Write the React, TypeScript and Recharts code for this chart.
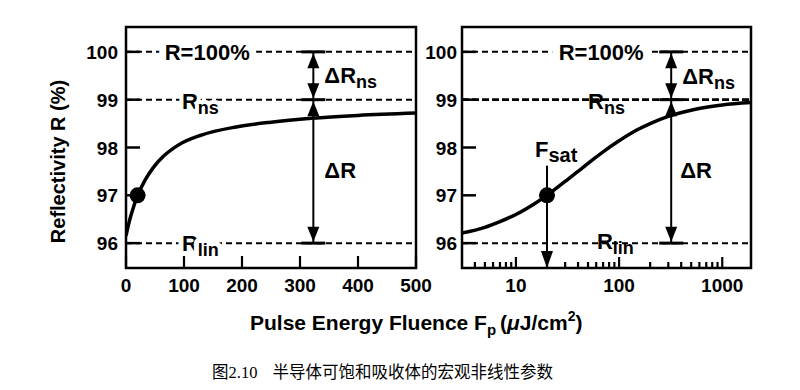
import {
  Line,
  LineChart,
  ReferenceArea,
  ReferenceDot,
  ReferenceLine,
  XAxis,
  YAxis,
} from "recharts";

// left panel: linear fluence axis
const linFluence = [0, 5, 10, 20, 33, 47, 64, 90, 130, 190, 250, 320, 400, 500];
const linReflectivity = [96.15, 96.42, 96.64, 97.0, 97.32, 97.58, 97.81, 98.05, 98.26, 98.43, 98.53, 98.61, 98.67, 98.72];

// right panel: log fluence axis
const logFluence = [3, 5, 7, 10, 15, 20, 30, 40, 50, 70, 100, 150, 200, 300, 500, 700, 1000, 1900];
const logReflectivity = [96.21, 96.33, 96.45, 96.6, 96.82, 97.0, 97.29, 97.5, 97.67, 97.91, 98.14, 98.37, 98.5, 98.65, 98.78, 98.84, 98.89, 98.94];

const yTicks = [96, 97, 98, 99, 100];
const linTicks = [0, 100, 200, 300, 400, 500];
const logTicks = [4, 5, 6, 7, 8, 9, 10, 20, 30, 40, 50, 60, 70, 80, 90, 100, 200, 300, 400, 500, 600, 700, 800, 900, 1000];
const logLabels = [10, 100, 1000];

const yDomain: [number, number] = [95.48, 100.52];
const linDomain: [number, number] = [0, 500];
const logDomain: [number, number] = [3, 1900];

const rFull = 100;
const rNs = 99;
const rLin = 96;
const fSat = 20;
const rSat = 97;
const linArrowF = 323;
const logArrowF = 320;

const FONT = "'Liberation Sans', Arial, Helvetica, sans-serif";

function YTick({ x, y, payload, gap }: any) {
  return (
    <g>
      <line x1={x} y1={y} x2={x + 14} y2={y} stroke="#000" strokeWidth={2.5} />
      <text x={x - gap} y={y + 7} textAnchor="end" fontSize={19} fontWeight="bold" fontFamily={FONT} fill="#000">
        {payload.value}
      </text>
    </g>
  );
}

function XTick({ x, y, payload, labels, major }: any) {
  const isMajor = labels.includes(payload.value);
  const len = isMajor ? major : 6;
  return (
    <g>
      <line x1={x} y1={y} x2={x} y2={y - len} stroke="#000" strokeWidth={2.2} />
      {isMajor && (
        <text x={x} y={y + 24} textAnchor="middle" fontSize={19} fontWeight="bold" fontFamily={FONT} fill="#000">
          {payload.value}
        </text>
      )}
    </g>
  );
}

function SubText({ cx, cy, dx = 0, dy = 0, main, sub, size = 22, subSize = 18, anchor = "start", halo = 0 }: any) {
  return (
    <text
      x={cx + dx}
      y={cy + dy}
      textAnchor={anchor}
      fontSize={size}
      fontWeight="bold"
      fontFamily={FONT}
      fill="#000"
      stroke={halo ? "#fff" : "none"}
      strokeWidth={halo}
      strokeLinejoin="round"
      paintOrder="stroke"
    >
      {main}
      {sub && (
        <tspan fontSize={subSize} dy={5}>
          {sub}
        </tspan>
      )}
    </text>
  );
}

function Head({ cx, cy, dir, w = 6, h = 15 }: any) {
  const s = dir === "up" ? 1 : -1;
  return <polygon points={`${cx},${cy} ${cx - w},${cy + s * h} ${cx + w},${cy + s * h}`} fill="#000" />;
}

function Junction({ cx, cy, kind }: any) {
  return (
    <g>
      <line x1={cx - 12} y1={cy} x2={cx + 12} y2={cy} stroke="#000" strokeWidth={3} />
      {kind !== "top" && <Head cx={cx} cy={cy - 1.5} dir="down" />}
      {kind !== "bottom" && <Head cx={cx} cy={cy + 1.5} dir="up" />}
    </g>
  );
}

function dashedLevels(heavyNs: boolean) {
  return [rFull, rNs, rLin].map((v) => (
    <ReferenceLine
      key={v}
      y={v}
      stroke="#000"
      strokeWidth={heavyNs && v === rNs ? 2.8 : 2}
      strokeDasharray={heavyNs && v === rNs ? "7 3" : "6 4"}
      ifOverflow="visible"
    />
  ));
}

function arrowSet(f: number) {
  return [
    <ReferenceLine key="shaft" segment={[{ x: f, y: rFull }, { x: f, y: rLin }]} stroke="#000" strokeWidth={2} ifOverflow="visible" />,
    <ReferenceDot key="j1" x={f} y={rFull} r={0} ifOverflow="visible" shape={(p: any) => <Junction cx={p.cx} cy={p.cy} kind="top" />} />,
    <ReferenceDot key="j2" x={f} y={rNs} r={0} ifOverflow="visible" shape={(p: any) => <Junction cx={p.cx} cy={p.cy} kind="mid" />} />,
    <ReferenceDot key="j3" x={f} y={rLin} r={0} ifOverflow="visible" shape={(p: any) => <Junction cx={p.cx} cy={p.cy} kind="bottom" />} />,
  ];
}

function LinearPanel() {
  const data = linFluence.map((f, i) => ({ f, r: linReflectivity[i] }));
  return (
    <LineChart width={440} height={300} data={data} margin={{ top: 27, right: 24, bottom: 0, left: 0 }}>
      <XAxis
        dataKey="f"
        type="number"
        domain={linDomain}
        ticks={linTicks}
        interval={0}
        height={32}
        axisLine={false}
        tickLine={false}
        tickSize={0}
        tickMargin={0}
        allowDataOverflow
        tick={(p: any) => <XTick {...p} labels={linTicks} major={12} />}
      />
      <YAxis
        type="number"
        domain={yDomain}
        ticks={yTicks}
        interval={0}
        width={126}
        axisLine={false}
        tickLine={false}
        tickSize={0}
        tickMargin={0}
        allowDataOverflow
        tick={(p: any) => <YTick {...p} gap={8} />}
      />
      {dashedLevels(false)}
      <ReferenceArea x1={linDomain[0]} x2={linDomain[1]} y1={yDomain[0]} y2={yDomain[1]} fill="none" fillOpacity={0} stroke="#000" strokeWidth={2.5} ifOverflow="visible" />
      <Line dataKey="r" type="monotone" stroke="#000" strokeWidth={3.5} dot={false} isAnimationActive={false} />
      <ReferenceDot x={140} y={rFull} r={0} ifOverflow="visible" shape={(p: any) => <SubText cx={p.cx} cy={p.cy} dy={8} main="R=100%" anchor="middle" halo={14} />} />
      <ReferenceDot x={96.5} y={rNs} r={0} ifOverflow="visible" shape={(p: any) => <SubText cx={p.cx} cy={p.cy} dy={9} main="R" sub="ns" halo={8} />} />
      <ReferenceDot x={96.5} y={rLin} r={0} ifOverflow="visible" shape={(p: any) => <SubText cx={p.cx} cy={p.cy} dy={8} main="R" sub="lin" halo={10} />} />
      <ReferenceDot x={linArrowF} y={99.5} r={0} ifOverflow="visible" shape={(p: any) => <SubText cx={p.cx} cy={p.cy} dx={11} dy={7} main="ΔR" sub="ns" />} />
      <ReferenceDot x={linArrowF} y={97.5} r={0} ifOverflow="visible" shape={(p: any) => <SubText cx={p.cx} cy={p.cy} dx={11} dy={7} main="ΔR" />} />
      {arrowSet(linArrowF)}
      <ReferenceDot x={fSat} y={rSat} r={8} fill="#000" stroke="none" ifOverflow="visible" />
    </LineChart>
  );
}

function LogPanel() {
  const data = logFluence.map((f, i) => ({ f, r: logReflectivity[i] }));
  return (
    <LineChart width={370} height={300} data={data} margin={{ top: 27, right: 19, bottom: 0, left: 0 }}>
      <XAxis
        dataKey="f"
        type="number"
        scale="log"
        domain={logDomain}
        ticks={logTicks}
        interval={0}
        height={32}
        axisLine={false}
        tickLine={false}
        tickSize={0}
        tickMargin={0}
        allowDataOverflow
        tick={(p: any) => <XTick {...p} labels={logLabels} major={11} />}
      />
      <YAxis
        type="number"
        domain={yDomain}
        ticks={yTicks}
        interval={0}
        width={62}
        axisLine={false}
        tickLine={false}
        tickSize={0}
        tickMargin={0}
        allowDataOverflow
        tick={(p: any) => <YTick {...p} gap={5} />}
      />
      {dashedLevels(true)}
      <ReferenceArea x1={logDomain[0]} x2={logDomain[1]} y1={yDomain[0]} y2={yDomain[1]} fill="none" fillOpacity={0} stroke="#000" strokeWidth={2.5} ifOverflow="visible" />
      <Line dataKey="r" type="monotone" stroke="#000" strokeWidth={3.5} dot={false} isAnimationActive={false} />
      <ReferenceLine segment={[{ x: fSat, y: 97.62 }, { x: fSat, y: yDomain[0] }]} stroke="#000" strokeWidth={2} ifOverflow="visible" />
      <ReferenceDot x={fSat} y={yDomain[0]} r={0} ifOverflow="visible" shape={(p: any) => <Head cx={p.cx} cy={p.cy} dir="down" h={17} />} />
      <ReferenceDot x={fSat} y={97.62} r={0} ifOverflow="visible" shape={(p: any) => <SubText cx={p.cx} cy={p.cy} dx={-12} dy={-9} main="F" sub="sat" subSize={20} />} />
      <ReferenceDot x={67} y={rFull} r={0} ifOverflow="visible" shape={(p: any) => <SubText cx={p.cx} cy={p.cy} dy={8} main="R=100%" anchor="middle" halo={16} />} />
      <ReferenceDot x={50} y={rNs} r={0} ifOverflow="visible" shape={(p: any) => <SubText cx={p.cx} cy={p.cy} dy={9} main="R" sub="ns" />} />
      <ReferenceDot x={61} y={rLin} r={0} ifOverflow="visible" shape={(p: any) => <SubText cx={p.cx} cy={p.cy} dy={6} main="R" sub="lin" />} />
      <ReferenceDot x={logArrowF} y={99.5} r={0} ifOverflow="visible" shape={(p: any) => <SubText cx={p.cx} cy={p.cy} dx={11} dy={8} main="ΔR" sub="ns" />} />
      <ReferenceDot x={logArrowF} y={97.5} r={0} ifOverflow="visible" shape={(p: any) => <SubText cx={p.cx} cy={p.cy} dx={9} dy={7} main="ΔR" />} />
      {arrowSet(logArrowF)}
      <ReferenceDot x={fSat} y={rSat} r={8} fill="#000" stroke="none" ifOverflow="visible" />
    </LineChart>
  );
}

export default function App() {
  return (
    <div style={{ position: "absolute", left: 0, top: 0, width: 800, height: 390, background: "#fff" }}>
      <div style={{ position: "absolute", left: 0, top: 0 }}>
        <LinearPanel />
      </div>
      <div style={{ position: "absolute", left: 400, top: 0 }}>
        <LogPanel />
      </div>
      <svg width={800} height={390} style={{ position: "absolute", left: 0, top: 0, pointerEvents: "none" }}>
        <text
          transform="translate(65,161.5) rotate(-90)"
          textAnchor="middle"
          fontSize={20}
          fontWeight="bold"
          fontFamily={FONT}
        >
          Reflectivity R (%)
        </text>
        <text x={250} y={330} fontSize={21} fontWeight="bold" fontFamily={FONT}>
          Pulse Energy Fluence F
          <tspan fontSize={15} dy={5}>p</tspan>
          <tspan dy={-5} dx={4}>(</tspan>
          <tspan fontStyle="italic">μ</tspan>
          <tspan>J/cm</tspan>
          <tspan fontSize={14} dy={-9}>2</tspan>
          <tspan dy={9}>)</tspan>
        </text>
        <text x={212} y={378} fontSize={16.5} fontFamily="'Liberation Serif', 'Noto Sans CJK SC', serif">
          图2.10
          <tspan dx={15}>半导体可饱和吸收体的宏观非线性参数</tspan>
        </text>
      </svg>
    </div>
  );
}
